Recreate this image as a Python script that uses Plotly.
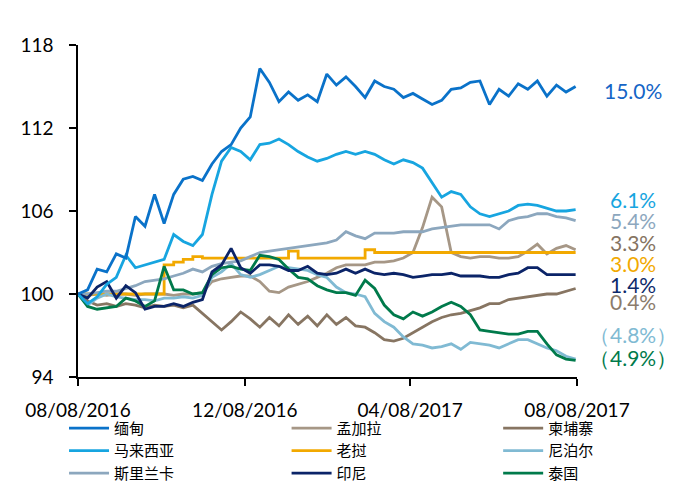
import plotly.graph_objects as go
import pandas as pd

# ---- data (weekly index levels, 08/08/2016 = 100) ----
start_date = "2016-08-08"
n_weeks = 53

myanmar = [100.0, 100.3, 101.8, 101.6, 102.9, 102.6, 105.6, 104.9, 107.2, 105.1,
           107.2, 108.3, 108.5, 108.2, 109.4, 110.3, 110.8, 112.0, 112.8, 116.3,
           115.3, 113.9, 114.6, 114.0, 114.4, 113.9, 115.9, 115.1, 115.7, 115.0,
           114.2, 115.4, 115.0, 114.8, 114.2, 114.5, 114.1, 113.7, 114.0, 114.8,
           114.9, 115.3, 115.4, 113.7, 114.8, 114.3, 115.2, 114.8, 115.4, 114.3,
           115.1, 114.6, 115.0]
malaysia = [100.0, 99.3, 99.8, 100.7, 101.2, 102.8, 101.9, 102.1, 102.3, 102.5,
            104.3, 103.8, 103.5, 104.3, 107.2, 109.6, 110.6, 110.3, 109.7, 110.8,
            110.9, 111.2, 110.8, 110.3, 109.9, 109.6, 109.8, 110.1, 110.3, 110.1,
            110.3, 110.1, 109.7, 109.4, 109.7, 109.5, 109.1, 108.0, 107.0, 107.4,
            107.2, 106.3, 105.8, 105.6, 105.8, 106.0, 106.4, 106.5, 106.4, 106.2,
            106.0, 106.0, 106.1]
srilanka = [100.0, 100.0, 100.1, 100.2, 100.2, 100.4, 100.6, 100.9, 101.0, 101.1,
            101.3, 101.5, 101.8, 101.6, 102.0, 102.2, 102.3, 102.4, 102.7, 103.0,
            103.1, 103.2, 103.3, 103.4, 103.5, 103.6, 103.7, 103.9, 104.5, 104.2,
            104.0, 104.4, 104.4, 104.4, 104.5, 104.5, 104.5, 104.7, 104.8, 104.9,
            105.0, 105.0, 105.0, 105.0, 104.7, 105.3, 105.5, 105.6, 105.8, 105.8,
            105.6, 105.5, 105.3]
bangladesh = [100.0, 99.9, 100.0, 99.9, 100.0, 100.0, 99.9, 100.0, 100.0, 100.0,
              99.9, 100.0, 100.0, 100.1, 100.9, 101.1, 101.2, 101.3, 101.3, 100.9,
              100.2, 100.1, 100.5, 100.7, 100.9, 101.2, 101.5, 101.9, 102.1, 102.1,
              102.1, 102.3, 102.3, 102.4, 102.6, 103.0, 104.8, 107.0, 106.3, 103.0,
              102.7, 102.6, 102.7, 102.7, 102.6, 102.6, 102.7, 103.1, 103.6, 102.9,
              103.3, 103.5, 103.2]
laos = [100.0, 100.0, 100.0, 100.0, 100.0, 100.0, 100.0, 100.0, 100.0, 102.1,
        102.3, 102.5, 102.7, 102.6, 102.6, 102.6, 102.6, 102.6, 102.6, 102.6,
        102.6, 102.6, 103.1, 102.6, 102.6, 102.6, 102.6, 102.6, 102.6, 102.6,
        103.2, 103.0, 103.0, 103.0, 103.0, 103.0, 103.0, 103.0, 103.0, 103.0,
        103.0, 103.0, 103.0, 103.0, 103.0, 103.0, 103.0, 103.0, 103.0, 103.0,
        103.0, 103.0, 103.0]
indonesia = [100.0, 99.7, 100.5, 100.9, 99.7, 100.6, 100.1, 98.9, 99.1, 99.1,
             99.3, 99.1, 99.4, 99.6, 101.6, 102.1, 103.3, 101.9, 101.5, 102.1,
             102.1, 102.0, 101.7, 101.7, 102.0, 101.5, 101.4, 101.5, 101.8, 101.5,
             101.8, 101.5, 101.4, 101.5, 101.4, 101.2, 101.3, 101.4, 101.4, 101.5,
             101.3, 101.3, 101.3, 101.2, 101.2, 101.4, 101.5, 101.9, 101.9, 101.4,
             101.4, 101.4, 101.4]
cambodia = [100.0, 99.5, 99.2, 99.3, 99.1, 99.3, 99.2, 99.0, 99.2, 99.1,
            99.2, 99.0, 99.2, 98.6, 98.0, 97.4, 98.0, 98.7, 98.2, 97.6,
            98.3, 97.7, 98.5, 97.8, 98.4, 97.7, 98.5, 97.8, 98.3, 97.7,
            97.6, 97.2, 96.7, 96.6, 96.8, 97.2, 97.6, 98.0, 98.3, 98.5,
            98.6, 98.8, 99.0, 99.3, 99.3, 99.6, 99.7, 99.8, 99.9, 100.0,
            100.0, 100.2, 100.4]
nepal = [100.0, 99.2, 99.7, 100.0, 99.8, 99.7, 99.6, 99.6, 99.5, 99.7,
         99.7, 99.8, 99.7, 99.9, 101.2, 101.6, 102.2, 101.4, 101.2, 101.4,
         101.7, 102.0, 101.9, 101.8, 101.7, 101.4, 101.2, 100.5, 100.1, 100.0,
         99.8, 98.6, 98.0, 97.6, 96.9, 96.4, 96.3, 96.1, 96.2, 96.4,
         96.0, 96.5, 96.4, 96.3, 96.1, 96.4, 96.7, 96.7, 96.4, 96.1,
         95.9, 95.5, 95.3]
thailand = [100.0, 99.1, 98.9, 99.0, 99.1, 99.7, 99.5, 99.1, 99.5, 102.0,
            100.3, 100.3, 100.0, 100.1, 101.4, 101.9, 102.0, 101.8, 101.7, 102.8,
            102.7, 102.5, 101.8, 101.2, 101.1, 100.6, 100.3, 100.1, 100.1, 99.9,
            101.0, 100.4, 99.2, 98.5, 98.2, 98.7, 98.4, 98.7, 99.1, 99.4,
            99.1, 98.5, 97.4, 97.3, 97.2, 97.1, 97.1, 97.3, 97.3, 96.4,
            95.6, 95.3, 95.2]

names = ["缅甸", "马来西亚", "斯里兰卡", "孟加拉", "老挝", "印尼", "柬埔寨", "尼泊尔", "泰国"]
values = [myanmar, malaysia, srilanka, bangladesh, laos, indonesia, cambodia, nepal, thailand]
end_labels = ["15.0%", "6.1%", "5.4%", "3.3%", "3.0%", "1.4%", "0.4%", "（4.8%）", "（4.9%）"]

x_tick_vals = ["2016-08-08", "2016-12-08", "2017-04-08", "2017-08-08"]
x_tick_text = ["08/08/2016", "12/08/2016", "04/08/2017", "08/08/2017"]
y_tick_vals = [94, 100, 106, 112, 118]

# ---- styling ----
colors = {"缅甸": "#0A72C9", "马来西亚": "#17A5E0", "斯里兰卡": "#8CA7BE",
          "孟加拉": "#A69786", "老挝": "#F2A900", "印尼": "#0B2468",
          "柬埔寨": "#877562", "尼泊尔": "#80BAD3", "泰国": "#007A4B"}
label_colors = ["#1565C6", "#17A5E0", "#8CA7BE", "#857361", "#F2A900",
                "#0D2A6B", "#8B7B6B", "#80BAD3", "#007A4B"]
label_y = [114.7, 106.85, 105.3, 103.7, 102.2, 100.7, 99.45, 97.05, 95.4]
# legend column for each series (three vertical columns under the chart)
legend_col = {"缅甸": "legend", "马来西亚": "legend", "斯里兰卡": "legend",
              "孟加拉": "legend2", "老挝": "legend2", "印尼": "legend2",
              "柬埔寨": "legend3", "尼泊尔": "legend3", "泰国": "legend3"}
legend_rank = {nm: i for i, nm in enumerate(names)}
draw_order = ["柬埔寨", "孟加拉", "老挝", "尼泊尔", "斯里兰卡", "泰国", "印尼", "马来西亚", "缅甸"]

dates = pd.date_range(start_date, periods=n_weeks, freq="7D")
data = dict(zip(names, values))

fig = go.Figure()
for nm in draw_order:
    fig.add_trace(go.Scatter(
        x=dates, y=data[nm], name=nm, mode="lines",
        line=dict(color=colors[nm], width=2.8, shape="hv" if nm == "老挝" else "linear"),
        legend=legend_col[nm], legendrank=legend_rank[nm],
    ))

for txt, yv, col in zip(end_labels, label_y, label_colors):
    fig.add_annotation(x=1, xref="paper", xanchor="center", xshift=56,
                       y=yv, yref="y", yanchor="middle", text=txt, showarrow=False,
                       font=dict(family="Lato", size=21, color=col))

legend_font = dict(family="Noto Sans CJK SC", size=15, color="black")
legend_common = dict(orientation="v", y=-0.105, xanchor="left", yanchor="top",
                     font=legend_font, itemwidth=40, tracegroupgap=0,
                     bgcolor="rgba(0,0,0,0)")

fig.update_layout(
    width=691, height=482,
    margin=dict(l=70, r=122, t=37, b=113, autoexpand=False),
    plot_bgcolor="white", paper_bgcolor="white",
    font=dict(family="Lato", color="black"),
    showlegend=True,
    legend=dict(x=-0.028, **legend_common),
    legend2=dict(x=0.418, **legend_common),
    legend3=dict(x=0.842, **legend_common),
)
fig.update_xaxes(type="date", range=[x_tick_vals[0], x_tick_vals[-1]],
                 tickvals=x_tick_vals, ticktext=x_tick_text,
                 ticks="outside", ticklen=7, tickcolor="black", tickwidth=1.5,
                 showline=True, linecolor="black", linewidth=1.5,
                 showgrid=False, zeroline=False, ticklabelstandoff=8,
                 tickfont=dict(family="Lato", size=19, color="black"))
fig.update_yaxes(range=[94, 118], tickvals=y_tick_vals,
                 ticks="outside", ticklen=7, tickcolor="black", tickwidth=1.5,
                 showline=True, linecolor="black", linewidth=1.5,
                 showgrid=False, zeroline=False, ticklabelstandoff=12,
                 tickfont=dict(family="Lato", size=19, color="black"))

fig.write_html("out.html")
